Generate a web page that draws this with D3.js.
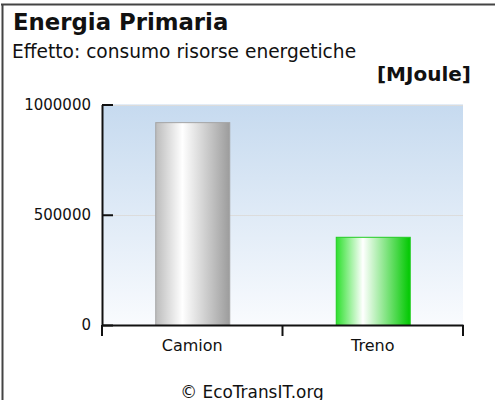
<!DOCTYPE html>
<html>
<head>
<meta charset="utf-8">
<script src="https://cdn.jsdelivr.net/npm/d3@7"></script>
<style>
  body { margin: 0; background: #fff; }
  text { font-family: "DejaVu Sans", Verdana, sans-serif; fill: #111; }
</style>
</head>
<body>
<div id="chart"></div>
<script>
const categories = ['Camion', 'Treno']
const values = [920000, 400000]
const yTicks = [0, 500000, 1000000]
const barColors = [['#bcbcbc', '#ffffff', '#9c9c9c'], ['#2ee02e', '#ffffff', '#00c800']]
const barStroke = ['#a4a4a4', '#22cc22']

let width = 495
let height = 400
let font = '"DejaVu Sans", Verdana, sans-serif'

const svg = d3.select('#chart')
  .append('svg')
  .attr('width', width)
  .attr('height', height)

// frame, top and left only
svg.append('line').attr('x1', 1).attr('x2', width).attr('y1', 4.5).attr('y2', 4.5)
  .attr('stroke', '#444').attr('stroke-width', 2)
svg.append('line').attr('x1', 2.5).attr('x2', 2.5).attr('y1', 4).attr('y2', height)
  .attr('stroke', '#444').attr('stroke-width', 2)

svg.append('text').attr('x', 13).attr('y', 29.5)
  .attr('font-size', 22.8).attr('font-weight', 'bold')
  .text('Energia Primaria')

svg.append('text').attr('x', 12).attr('y', 57.5)
  .attr('font-size', 18.6)
  .text('Effetto: consumo risorse energetiche')

svg.append('text').attr('x', 471).attr('y', 81)
  .attr('font-size', 20).attr('font-weight', 'bold').attr('text-anchor', 'end')
  .text('[MJoule]')

let plot = {left: 102, right: 463, top: 104.5, bottom: 325}

let x = d3.scaleBand()
  .domain(categories)
  .range([plot.left, plot.right])
  .paddingInner(0.59)
  .paddingOuter(0.295)

let y = d3.scaleLinear()
  .domain([0, 1000000])
  .range([plot.bottom, plot.top])

const defs = svg.append('defs')

let bg = defs.append('linearGradient').attr('id', 'bg')
  .attr('x1', 0).attr('x2', 0).attr('y1', 0).attr('y2', 1)
bg.append('stop').attr('offset', '0%').attr('stop-color', '#c6daef')
bg.append('stop').attr('offset', '100%').attr('stop-color', '#f9fbfe')

barColors.forEach(function(c, i){
  let g = defs.append('linearGradient').attr('id', 'bar' + i)
    .attr('x1', 0).attr('x2', 1).attr('y1', 0).attr('y2', 0)
  g.append('stop').attr('offset', '0%').attr('stop-color', c[0])
  g.append('stop').attr('offset', '36%').attr('stop-color', c[1])
  g.append('stop').attr('offset', '100%').attr('stop-color', c[2])
})

svg.append('rect')
  .attr('x', plot.left).attr('y', plot.top)
  .attr('width', plot.right - plot.left).attr('height', plot.bottom - plot.top)
  .attr('fill', 'url(#bg)')

svg.append('g')
  .selectAll('line')
  .data(yTicks.filter(d => d > 0))
  .join('line')
  .attr('x1', plot.left).attr('x2', plot.right)
  .attr('y1', d => Math.round(y(d)) + 0.5).attr('y2', d => Math.round(y(d)) + 0.5)
  .attr('stroke', '#dcdcdc')

svg.append('g')
  .selectAll('rect')
  .data(values)
  .join('rect')
  .attr('x', (d, i) => x(categories[i]) + 0.5)
  .attr('y', d => y(d) + 0.5)
  .attr('width', x.bandwidth())
  .attr('height', d => y(0) - y(d))
  .attr('fill', (d, i) => 'url(#bar' + i + ')')
  .attr('stroke', (d, i) => barStroke[i])

yAxis = g => g
  .attr('transform', `translate(${plot.left},0)`)
  .call(d3.axisLeft(y).tickValues(yTicks).tickFormat(d3.format('d')).tickSizeInner(-11).tickSizeOuter(0).tickPadding(11))
  .call(g => g.selectAll('.domain').attr('stroke', '#111').attr('stroke-width', 2))
  .call(g => g.selectAll('.tick line').attr('stroke', '#111').attr('stroke-width', 2))
  .call(g => g.selectAll('text').attr('font-size', 15).attr('font-family', font).attr('fill', '#111'))

xAxis = g => g
  .attr('transform', `translate(0,${plot.bottom})`)
  .call(d3.axisBottom(x).tickSize(0).tickPadding(15))
  .call(g => g.selectAll('.domain').attr('stroke', '#111').attr('stroke-width', 2))
  .call(g => g.selectAll('text').attr('font-size', 16).attr('font-family', font).attr('fill', '#111'))

svg.append('g').call(yAxis)
svg.append('g').call(xAxis)

// ticks on the category axis: both ends and between the categories
let seps = [plot.left, x(categories[0]) + x.bandwidth() + x.step() * x.paddingInner() / 2, plot.right]
svg.append('g')
  .selectAll('line')
  .data(seps)
  .join('line')
  .attr('x1', d => d).attr('x2', d => d)
  .attr('y1', plot.bottom).attr('y2', plot.bottom + 11)
  .attr('stroke', '#111').attr('stroke-width', 2)

svg.append('text').attr('x', 252).attr('y', 397.5)
  .attr('font-size', 16.9).attr('text-anchor', 'middle').attr('fill', '#444')
  .text('© EcoTransIT.org')
</script>
</body>
</html>
